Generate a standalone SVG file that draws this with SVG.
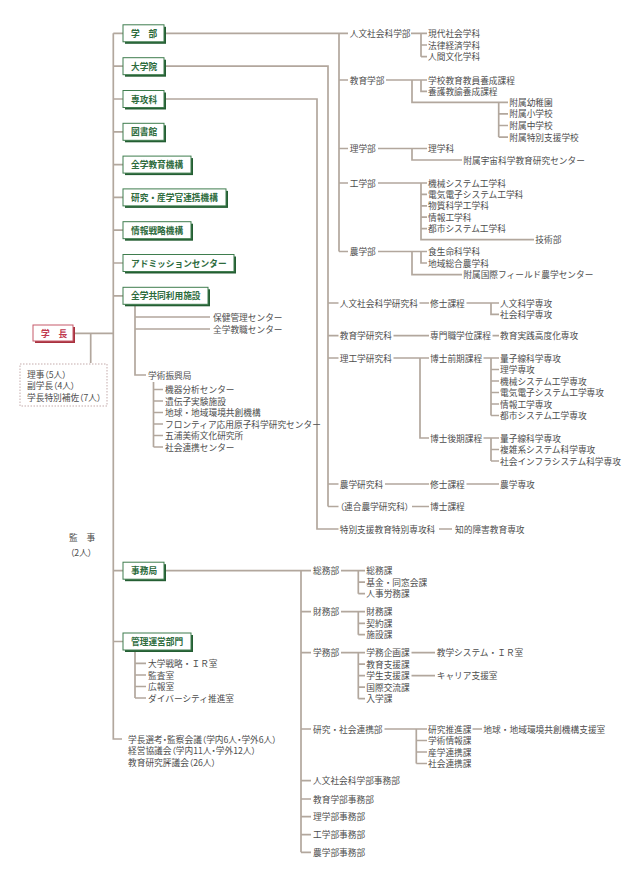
<svg xmlns="http://www.w3.org/2000/svg" width="640" height="893" viewBox="0 0 640 893">
<style>
.ln{stroke:#b2a79d;stroke-width:1.7;fill:none}
.t{font-family:"Noto Sans CJK JP","Noto Sans",sans-serif;font-size:8.7px;fill:#4d4d4d;dominant-baseline:central}
.p{font-feature-settings:"palt"}
.bx{fill:#fff;stroke:#3f7d4e;stroke-width:1}
.sh{fill:#245e33}
.bt{font-family:"Noto Sans CJK JP","Noto Sans",sans-serif;font-size:8.7px;font-weight:bold;fill:#2d6b3c;dominant-baseline:central}
.rbx{fill:#fff;stroke:#c65a6b;stroke-width:1}
.rsh{fill:#a8323f}
.rt{font-family:"Noto Sans CJK JP","Noto Sans",sans-serif;font-size:8.7px;font-weight:bold;fill:#c03a50;dominant-baseline:central}
</style>
<rect width="640" height="893" fill="#fff"/>
<g id="connectors" class="ln">
<path d="M113.3,33.3 V739 H122"/>
<path d="M113.3,33.3 H123 M113.3,66.2 H123 M113.3,99 H123 M113.3,131.8 H123 M113.3,164.6 H123 M113.3,197.4 H123 M113.3,230.2 H123 M113.3,263 H123 M113.3,295.8 H123 M113.3,570.7 H123 M113.3,641.5 H123"/>
<path d="M75,333.3 H113.3 M90.7,333.3 V363"/>
<path d="M166,33.3 H348 M339,33.3 V251.5 M339,80 H348 M339,148.5 H348 M339,183 H348 M339,251.5 H348"/>
<path d="M411,33.3 H427 M421,33.3 V56.7 M421,45 H427 M421,56.7 H427"/>
<path d="M386,80 H427 M421,80 V91.4 H427 M412,80 V102.3 H508 M498.7,102.3 V137.1 M498.7,113.9 H508 M498.7,125.5 H508 M498.7,137.1 H508"/>
<path d="M378,148.5 H427 M412,148.5 V160 H462"/>
<path d="M378,183 H427 M421,183 V239.7 H534 M421,194.4 H427 M421,205.8 H427 M421,217.2 H427 M421,228.6 H427"/>
<path d="M378,251.5 H427 M421,251.5 V263 H427 M412,251.5 V274.7 H462"/>
<path d="M166,66.2 H328 V506.5 M328,303 H338.5 M328,335.7 H338.5 M328,358 H338.5 M328,484 H338.5 M328,506.5 H338.5"/>
<path d="M419.5,303 H429 M466.5,303 H499 M491,303 V314.4 H499"/>
<path d="M393.5,335.7 H429 M492.5,335.7 H499"/>
<path d="M393.5,358 H429 M420,358 V438 H429 M483.5,358 H499 M491,358 V415.5 M491,369.5 H499 M491,381 H499 M491,392.5 H499 M491,404 H499 M491,415.5 H499"/>
<path d="M483.5,438 H499 M491,438 V461 M491,449.5 H499 M491,461 H499"/>
<path d="M385,484 H429 M466.5,484 H499 M412,506.5 H429"/>
<path d="M166,99 H317 V529 H338.5 M439,529 H452"/>
<path d="M135,304 V375 H146 M135,317 H210 M135,329 H210"/>
<path d="M153.5,382 V447 M153.5,389.5 H163 M153.5,401 H163 M153.5,412.5 H163 M153.5,424 H163 M153.5,435.5 H163 M153.5,447 H163"/>
<path d="M166,570.7 H311 M301,570.7 V852.3 M301,611.7 H311 M301,652.7 H311 M301,729 H311 M301,780.7 H311 M301,799 H311 M301,816.7 H311 M301,834.7 H311 M301,852.3 H311"/>
<path d="M341,570.7 H365 M358.3,570.7 V593.7 M358.3,582.2 H365 M358.3,593.7 H365"/>
<path d="M341,611.7 H365 M358.3,611.7 V634.7 M358.3,623.3 H365 M358.3,634.7 H365"/>
<path d="M341,652.7 H365 M358.3,652.7 V698.7 M358.3,664.2 H365 M358.3,675.7 H365 M358.3,687.2 H365 M358.3,698.7 H365 M411.5,652.7 H435 M411.5,675.7 H435"/>
<path d="M384.5,729 H427 M416.3,729 V763.5 M416.3,740.5 H427 M416.3,752 H427 M416.3,763.5 H427 M472.5,729 H482"/>
<path d="M135,651 V698 M135,663.3 H146 M135,675 H146 M135,686.5 H146 M135,698 H146"/>
</g>
<g id="president">
<rect class="rsh" x="35" y="327" width="40" height="16"/>
<rect class="rbx" x="33" y="325" width="40" height="16"/>
<text class="rt" x="41" y="333.3">学　長</text>
</g>
<g id="executives">
<rect x="20" y="364" width="87" height="42" fill="none" stroke="#c4abab" stroke-width="1" stroke-dasharray="1.5,1.5"/>
<text class="t p" x="27" y="374">理事（5人）</text>
<text class="t p" x="27" y="385.5">副学長（4人）</text>
<text class="t p" x="27" y="397">学長特別補佐（7人）</text>
</g>
<g id="auditor">
<text class="t" x="69" y="537">監　事</text>
<text class="t p" x="70" y="552">（2人）</text>
</g>
<g id="n-gakubu"><rect class="sh" x="125" y="26.8" width="41" height="17"/><rect class="bx" x="123" y="24.8" width="41" height="17"/><text class="bt" x="131" y="33.3">学　部</text></g>
<g id="n-daigakuin"><rect class="sh" x="125" y="59.7" width="41" height="17"/><rect class="bx" x="123" y="57.7" width="41" height="17"/><text class="bt" x="131" y="66.2">大学院</text></g>
<g id="n-senkouka"><rect class="sh" x="125" y="92.5" width="41" height="17"/><rect class="bx" x="123" y="90.5" width="41" height="17"/><text class="bt" x="131" y="99">専攻科</text></g>
<g id="n-toshokan"><rect class="sh" x="125" y="125.3" width="41" height="17"/><rect class="bx" x="123" y="123.3" width="41" height="17"/><text class="bt" x="131" y="131.8">図書館</text></g>
<g id="n-zengaku-kyoiku"><rect class="sh" x="125" y="158.1" width="68" height="17"/><rect class="bx" x="123" y="156.1" width="68" height="17"/><text class="bt" x="131" y="164.6">全学教育機構</text></g>
<g id="n-kenkyu"><rect class="sh" x="125" y="190.9" width="103" height="17"/><rect class="bx" x="123" y="188.9" width="103" height="17"/><text class="bt" x="131" y="197.4">研究・産学官連携機構</text></g>
<g id="n-joho"><rect class="sh" x="125" y="223.7" width="68" height="17"/><rect class="bx" x="123" y="221.7" width="68" height="17"/><text class="bt" x="131" y="230.2">情報戦略機構</text></g>
<g id="n-admission"><rect class="sh" x="125" y="256.5" width="111" height="17"/><rect class="bx" x="123" y="254.5" width="111" height="17"/><text class="bt" x="131" y="263">アドミッションセンター</text></g>
<g id="n-kyodo"><rect class="sh" x="125" y="289.3" width="85" height="17"/><rect class="bx" x="123" y="287.3" width="85" height="17"/><text class="bt" x="131" y="295.8">全学共同利用施設</text></g>
<g id="n-jimukyoku"><rect class="sh" x="125" y="564.2" width="41" height="17"/><rect class="bx" x="123" y="562.2" width="41" height="17"/><text class="bt" x="131" y="570.7">事務局</text></g>
<g id="n-kanri"><rect class="sh" x="125" y="635" width="68" height="17"/><rect class="bx" x="123" y="633" width="68" height="17"/><text class="bt" x="131" y="641.5">管理運営部門</text></g>
<g id="faculties">
<text class="t" x="349.7" y="33.3">人文社会科学部</text>
<text class="t" x="428" y="33.3">現代社会学科</text>
<text class="t" x="428" y="45">法律経済学科</text>
<text class="t" x="428" y="56.7">人間文化学科</text>
<text class="t" x="349.7" y="80">教育学部</text>
<text class="t" x="428" y="80">学校教育教員養成課程</text>
<text class="t" x="428" y="91.4">養護教諭養成課程</text>
<text class="t" x="509.3" y="102.3">附属幼稚園</text>
<text class="t" x="509.3" y="113.9">附属小学校</text>
<text class="t" x="509.3" y="125.5">附属中学校</text>
<text class="t" x="509.3" y="137.1">附属特別支援学校</text>
<text class="t" x="349.7" y="148.5">理学部</text>
<text class="t" x="428" y="148.5">理学科</text>
<text class="t" x="463.3" y="160">附属宇宙科学教育研究センター</text>
<text class="t" x="349.7" y="183">工学部</text>
<text class="t" x="428" y="183">機械システム工学科</text>
<text class="t" x="428" y="194.4">電気電子システム工学科</text>
<text class="t" x="428" y="205.8">物質科学工学科</text>
<text class="t" x="428" y="217.2">情報工学科</text>
<text class="t" x="428" y="228.6">都市システム工学科</text>
<text class="t" x="535.3" y="239.7">技術部</text>
<text class="t" x="349.7" y="251.5">農学部</text>
<text class="t" x="428" y="251.5">食生命科学科</text>
<text class="t" x="428" y="263">地域総合農学科</text>
<text class="t" x="463.3" y="274.7">附属国際フィールド農学センター</text>
</g>
<g id="graduate">
<text class="t" x="339.7" y="303">人文社会科学研究科</text>
<text class="t" x="430" y="303">修士課程</text>
<text class="t" x="500" y="303">人文科学専攻</text>
<text class="t" x="500" y="314.4">社会科学専攻</text>
<text class="t" x="339.7" y="335.7">教育学研究科</text>
<text class="t" x="430" y="335.7">専門職学位課程</text>
<text class="t" x="500" y="335.7">教育実践高度化専攻</text>
<text class="t" x="339.7" y="358">理工学研究科</text>
<text class="t" x="430" y="358">博士前期課程</text>
<text class="t" x="500" y="358">量子線科学専攻</text>
<text class="t" x="500" y="369.5">理学専攻</text>
<text class="t" x="500" y="381">機械システム工学専攻</text>
<text class="t" x="500" y="392.5">電気電子システム工学専攻</text>
<text class="t" x="500" y="404">情報工学専攻</text>
<text class="t" x="500" y="415.5">都市システム工学専攻</text>
<text class="t" x="430" y="438">博士後期課程</text>
<text class="t" x="500" y="438">量子線科学専攻</text>
<text class="t" x="500" y="449.5">複雑系システム科学専攻</text>
<text class="t" x="500" y="461">社会インフラシステム科学専攻</text>
<text class="t" x="339.7" y="484">農学研究科</text>
<text class="t" x="430" y="484">修士課程</text>
<text class="t" x="500" y="484">農学専攻</text>
<text class="t p" x="339.7" y="506.5">（連合農学研究科）</text>
<text class="t" x="430" y="506.5">博士課程</text>
<text class="t" x="339.7" y="529">特別支援教育特別専攻科</text>
<text class="t" x="455" y="529">知的障害教育専攻</text>
</g>
<g id="facilities">
<text class="t" x="213" y="317">保健管理センター</text>
<text class="t" x="213" y="329">全学教職センター</text>
<text class="t" x="148" y="375">学術振興局</text>
<text class="t" x="165" y="389.5">機器分析センター</text>
<text class="t" x="165" y="401">遺伝子実験施設</text>
<text class="t" x="165" y="412.5">地球・地域環境共創機構</text>
<text class="t" x="165" y="424">フロンティア応用原子科学研究センター</text>
<text class="t" x="165" y="435.5">五浦美術文化研究所</text>
<text class="t" x="165" y="447">社会連携センター</text>
</g>
<g id="secretariat">
<text class="t" x="313" y="570.7">総務部</text>
<text class="t" x="366.3" y="570.7">総務課</text>
<text class="t" x="366.3" y="582.2">基金・同窓会課</text>
<text class="t" x="366.3" y="593.7">人事労務課</text>
<text class="t" x="313" y="611.7">財務部</text>
<text class="t" x="366.3" y="611.7">財務課</text>
<text class="t" x="366.3" y="623.3">契約課</text>
<text class="t" x="366.3" y="634.7">施設課</text>
<text class="t" x="313" y="652.7">学務部</text>
<text class="t" x="366.3" y="652.7">学務企画課</text>
<text class="t" x="366.3" y="664.2">教育支援課</text>
<text class="t" x="366.3" y="675.7">学生支援課</text>
<text class="t" x="366.3" y="687.2">国際交流課</text>
<text class="t" x="366.3" y="698.7">入学課</text>
<text class="t" x="436.7" y="652.7">教学システム・ＩＲ室</text>
<text class="t" x="436.7" y="675.7">キャリア支援室</text>
<text class="t" x="313" y="729">研究・社会連携部</text>
<text class="t" x="428" y="729">研究推進課</text>
<text class="t" x="428" y="740.5">学術情報課</text>
<text class="t" x="428" y="752">産学連携課</text>
<text class="t" x="428" y="763.5">社会連携課</text>
<text class="t" x="483.3" y="729" textLength="122" lengthAdjust="spacing">地球・地域環境共創機構支援室</text>
<text class="t" x="313" y="780.7">人文社会科学部事務部</text>
<text class="t" x="313" y="799">教育学部事務部</text>
<text class="t" x="313" y="816.7">理学部事務部</text>
<text class="t" x="313" y="834.7">工学部事務部</text>
<text class="t" x="313" y="852.3">農学部事務部</text>
</g>
<g id="management">
<text class="t" x="148" y="663.3">大学戦略・ＩＲ室</text>
<text class="t" x="148" y="675">監査室</text>
<text class="t" x="148" y="686.5">広報室</text>
<text class="t" x="148" y="698">ダイバーシティ推進室</text>
</g>
<g id="councils">
<text class="t p" x="128" y="739">学長選考・監察会議（学内6人・学外6人）</text>
<text class="t p" x="128" y="750.5">経営協議会（学内11人・学外12人）</text>
<text class="t p" x="128" y="762">教育研究評議会（26人）</text>
</g>
</svg>
